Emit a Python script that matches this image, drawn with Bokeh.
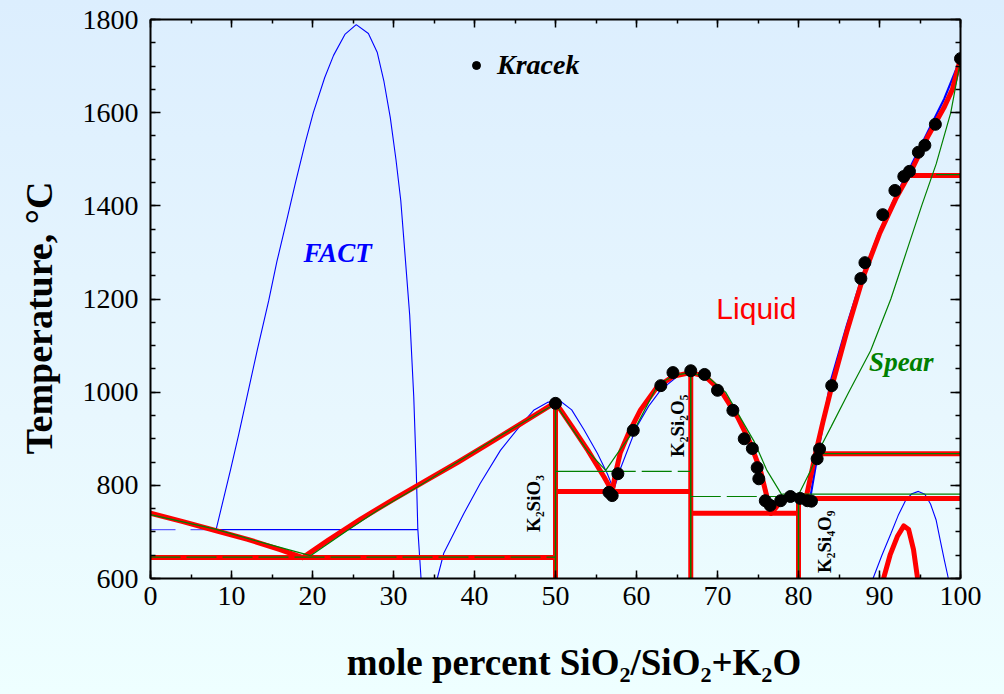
import numpy as np
from bokeh.plotting import figure
from bokeh.models import (LinearAxis, FixedTicker, Legend, LegendItem,
                          InlineStyleSheet, Range1d)
from bokeh.core.properties import value
from bokeh.embed import file_html
from bokeh.resources import INLINE

# ---------------- data: K2O-SiO2 phase diagram ----------------
# Assessed liquidus (red, thick)
red_liq_a_x = [0, 4, 8, 12, 16, 18.8]
red_liq_a_t = [740, 722, 703, 684, 662, 645]
red_liq_b_x = [18.8, 22, 26, 30, 34, 38, 42, 46, 50]
red_liq_b_t = [645, 683, 728, 770, 810, 850, 892, 935, 978]
red_liq_c_x = [50, 52, 54, 56, 57]
red_liq_c_t = [978, 927, 875, 818, 787]
red_liq_d_x = [57, 57.4, 58, 59, 60.5, 62.5, 64.5, 66.7, 68.5, 70.5, 72.5, 74, 75.3, 76.6]
red_liq_d_t = [787, 825, 870, 911, 962, 1010, 1034, 1042, 1034, 1001, 946, 893, 832, 740]
red_liq_e_x = [76.6, 77.5, 78.5, 79.5, 81]
red_liq_e_t = [740, 758, 770, 776, 778]
red_liq_f_x = [81, 82.1, 83.0, 84.0, 86.0, 88.0, 90.0, 92.0, 94.0, 96.0, 98.0, 99.0, 100]
red_liq_f_t = [778, 868, 935, 1005, 1132, 1248, 1340, 1415, 1478, 1550, 1612, 1650, 1716]
red_dome_x = [90.5, 91.3, 92.2, 93.0, 93.6, 94.2, 94.7]
red_dome_t = [600, 650, 690, 713, 705, 662, 600]
# invariant lines (start x, end x, T)
red_inv_x0 = [0, 50, 66.7, 80, 82.5, 93]
red_inv_x1 = [50, 66.7, 80, 100, 100, 100]
red_inv_t = [645, 787, 740, 772, 868, 1465]
# compounds K2SiO3, K2Si2O5, K2Si4O9 (x, melting T)
cmp_x = [50, 66.7, 80]
cmp_t = [978, 1042, 775]
cmp_names = ["K\u2082SiO\u2083", "K\u2082Si\u2082O\u2085", "K\u2082Si\u2084O\u2089"]

# FACT (blue, thin)
fact_gap_x = [8.1, 9.9, 10.9, 12.1, 13.2, 14.6, 15.6, 16.9, 17.9, 19.1, 20.1, 21.5,
              22.6, 24.0, 25.4, 26.9, 28.0, 28.8, 29.6, 30.3, 30.9, 31.4, 32.0,
              32.5, 32.8, 33.0, 33.4]
fact_gap_t = [705, 835, 910, 1005, 1092, 1197, 1280, 1375, 1450, 1535, 1600, 1675,
              1723, 1768, 1789, 1770, 1729, 1669, 1590, 1500, 1411, 1300, 1165,
              990, 838, 707, 600]
fact_mono_x0, fact_mono_x1, fact_mono_t = 8.1, 33.0, 705
fact_liq_a_x = [0, 8.1]
fact_liq_a_t = [740, 705]
fact_liq_b_x = [35.4, 36.2, 38.7, 40.7, 43.2, 45.5, 47.3, 49, 50.5, 52, 53.5, 55.2, 56.4, 57.2]
fact_liq_b_t = [600, 654, 740, 804, 875, 925, 961, 978, 982, 962, 920, 868, 825, 790]
fact_liq_c_x = [57.2, 58.0, 59.0, 60.0, 61.5, 63, 65, 66.7, 68.5, 70.5, 72.5, 74, 75.5, 76.8]
fact_liq_c_t = [790, 835, 880, 925, 970, 1005, 1033, 1042, 1034, 1001, 946, 893, 825, 745]
fact_liq_d_x = [76.8, 78, 79.5, 81.5, 82.5, 84, 86, 88, 90, 92, 94, 96, 98, 100]
fact_liq_d_t = [745, 765, 775, 778, 880, 1025, 1145, 1255, 1345, 1420, 1490, 1560, 1630, 1716]
fact_dome_x = [89.2, 90.3, 91.4, 92.3, 93.2, 94.0, 94.8, 95.6, 96.3, 97.0, 97.5, 98.0, 98.5]
fact_dome_t = [600, 650, 696, 735, 767, 782, 787, 781, 760, 725, 682, 640, 600]

# Spear (green, thin)
spear_a_x = [0, 8, 13.6, 19.75]
spear_a_t = [737, 706, 678, 649]
spear_b_x = [19.75, 24.3, 28, 33, 38, 43, 50]
spear_b_t = [649, 703, 746, 797, 851, 905, 975]
spear_c_x = [50, 52, 54, 56.2]
spear_c_t = [975, 923, 873, 832]
spear_d_x = [56.2, 57.5, 59.7, 62.6, 64.6, 66.7, 69, 71, 73, 74.5, 76.1, 78.0]
spear_d_t = [832, 865, 918, 1015, 1036, 1042, 1030, 1000, 940, 895, 832, 778]
spear_e_x = [78.0, 80, 81.5, 82.3, 84, 86.2, 88.9, 91.4, 93.3, 95.2, 97.0, 98.8, 100]
spear_e_t = [778, 780, 832, 868, 925, 1000, 1089, 1200, 1300, 1400, 1490, 1600, 1712]
spear_inv_x0 = [50, 78, 82.3, 97]
spear_inv_x1 = [56.2, 100, 100, 100]
spear_inv_t = [830, 781, 868, 1467]
spear_dash_x0 = [0, 56.2, 66.7]
spear_dash_x1 = [50, 66.7, 80]
spear_dash_t = [646, 830, 776]

# Kracek measurements
kracek_x = [50, 56.6, 57.0, 57.7, 59.6, 63.0, 64.5, 66.7, 68.4, 70.0, 71.9, 73.3, 74.3,
            74.9, 75.1, 75.9, 76.5, 77.8, 79.0, 80.2, 81.1, 81.6, 82.3, 82.6, 84.1,
            87.7, 88.2, 90.4, 91.9, 93.0, 93.7, 94.8, 95.6, 96.9, 100]
kracek_t = [976, 785, 778, 825, 918, 1014, 1042, 1046, 1038, 1004, 961, 900, 879,
            838, 814, 767, 757, 767, 776, 772, 767, 766, 857, 878, 1014,
            1244, 1278, 1381, 1433, 1463, 1474, 1515, 1530, 1575, 1716]

RED, BLUE, GREEN = "#FF0000", "#0000FF", "#008000"
SERIF = "Liberation Serif"
NB = "\u00a0"

p = figure(width=1004, height=694, output_backend="svg", toolbar_location=None,
           x_range=Range1d(0, 100), y_range=Range1d(600, 1800),
           min_border_left=150, min_border_right=44, min_border_top=19,
           min_border_bottom=116)
p.background_fill_color = None
p.border_fill_color = None
p.outline_line_color = None
p.stylesheets = [InlineStyleSheet(
    css=":host { background: linear-gradient(to bottom, #DCEEFE 0%, #E8F7FE 60%, #EEFFFF 100%); }")]
p.xgrid.visible = False
p.ygrid.visible = False

# ---------- FACT ----------
bw = 1.1
p.line(fact_gap_x, fact_gap_t, color=BLUE, line_width=bw)
p.segment(x0=[fact_mono_x0], x1=[fact_mono_x1], y0=[fact_mono_t], y1=[fact_mono_t],
          color=BLUE, line_width=1.3)
p.segment(x0=[0], x1=[fact_mono_x0], y0=[fact_mono_t], y1=[fact_mono_t],
          color="#5F5FFF", line_width=1.3, line_dash="25 15")
p.line(fact_liq_a_x, fact_liq_a_t, color=BLUE, line_width=bw)
p.line(fact_liq_b_x, fact_liq_b_t, color=BLUE, line_width=bw)
p.line(fact_liq_c_x, fact_liq_c_t, color=BLUE, line_width=bw)
p.line(fact_liq_d_x, fact_liq_d_t, color=BLUE, line_width=2.2)
p.line(fact_dome_x, fact_dome_t, color=BLUE, line_width=bw)

# ---------- assessed (red) ----------
rw = 5
for xs, ts in [(red_liq_a_x, red_liq_a_t), (red_liq_b_x, red_liq_b_t),
               (red_liq_c_x, red_liq_c_t), (red_liq_d_x, red_liq_d_t),
               (red_liq_e_x, red_liq_e_t), (red_liq_f_x, red_liq_f_t),
               (red_dome_x, red_dome_t)]:
    p.line(xs, ts, color=RED, line_width=rw, line_join="round", line_cap="round")
p.segment(x0=red_inv_x0, x1=red_inv_x1, y0=red_inv_t, y1=red_inv_t,
          color=RED, line_width=rw)
p.segment(x0=cmp_x, x1=cmp_x, y0=[600] * 3, y1=cmp_t, color=RED, line_width=rw)

# ---------- Spear (green) ----------
gw = 1.2
for xs, ts in [(spear_a_x, spear_a_t), (spear_b_x, spear_b_t),
               (spear_c_x, spear_c_t), (spear_d_x, spear_d_t),
               (spear_e_x, spear_e_t)]:
    p.line(xs, ts, color=GREEN, line_width=gw)
p.segment(x0=spear_inv_x0, x1=spear_inv_x1, y0=spear_inv_t, y1=spear_inv_t,
          color=GREEN, line_width=gw)
p.segment(x0=spear_dash_x0, x1=spear_dash_x1, y0=spear_dash_t, y1=spear_dash_t,
          color=GREEN, line_width=gw, line_dash="30 6")
p.segment(x0=cmp_x, x1=cmp_x, y0=[600] * 3, y1=[975, 1040, 781],
          color=GREEN, line_width=1.5)

# ---------- Kracek ----------
kr = p.scatter(kracek_x, kracek_t, size=12, color="black")

legend = Legend(items=[LegendItem(label="Kracek", renderers=[kr])],
                location=(316, 497), padding=0, margin=0, spacing=0,
                glyph_width=20, glyph_height=20, label_standoff=11,
                border_line_color=None, background_fill_alpha=0,
                label_text_font=SERIF, label_text_font_style="bold italic",
                label_text_font_size="28px", label_text_color="black")
p.add_layout(legend)

# ---------- labels ----------
p.text(x=[23.1], y=[1298], text=["FACT"], text_color=BLUE,
       text_font=value(SERIF), text_font_style="bold italic", text_font_size="27px",
       text_align="center", text_baseline="middle")
p.text(x=[74.8], y=[1180], text=["Liquid"], text_color=RED,
       text_font=value("Liberation Sans"), text_font_size="30px",
       text_align="center", text_baseline="middle")
p.text(x=[92.7], y=[1064], text=["Spear"], text_color=GREEN,
       text_font=value(SERIF), text_font_style="bold italic", text_font_size="27px",
       text_align="center", text_baseline="middle")
p.text(x=[47.3, 65.1, 83.2], y=[761, 928, 679], text=cmp_names, angle=np.pi / 2,
       text_color="black", text_font=value(SERIF), text_font_style="bold",
       text_font_size="19px", text_align="center", text_baseline="middle")

# ---------- axes ----------
x_major = list(range(0, 101, 10))
y_major = list(range(600, 1801, 200))
xt = FixedTicker(ticks=x_major, minor_ticks=list(range(0, 101, 5)))
yt = FixedTicker(ticks=y_major, minor_ticks=list(range(600, 1801, 50)))


def style_axis(ax, ticker, major=9, minor=5):
    ax.ticker = ticker
    ax.axis_line_width = 2
    ax.axis_line_color = "black"
    ax.major_tick_in = major
    ax.major_tick_out = 0
    ax.minor_tick_in = minor
    ax.minor_tick_out = 0
    ax.major_tick_line_width = 1.5
    ax.minor_tick_line_width = 1.5
    ax.major_label_text_font = SERIF
    ax.major_label_text_font_size = "28px"
    ax.major_label_text_color = "black"


style_axis(p.xaxis[0], xt, major=8, minor=4)
style_axis(p.yaxis[0], yt, major=10, minor=5)
p.xaxis[0].major_label_standoff = 8
p.yaxis[0].major_label_standoff = 12
p.xaxis[0].axis_label = NB * 4 + "mole percent SiO\u2082/SiO\u2082+K\u2082O"
p.yaxis[0].axis_label = "Temperature, \u00b0C" + NB * 4
for ax in (p.xaxis[0], p.yaxis[0]):
    ax.axis_label_text_font = SERIF
    ax.axis_label_text_font_style = "bold"
    ax.axis_label_text_color = "black"
p.xaxis[0].axis_label_text_font_size = "37px"
p.yaxis[0].axis_label_text_font_size = "38px"
p.xaxis[0].axis_label_standoff = 34
p.yaxis[0].axis_label_standoff = 20

# mirrored tick-only axes on top and right
top = LinearAxis()
style_axis(top, xt, major=8, minor=4)
top.major_label_overrides = {t: "" for t in x_major}
top.major_label_standoff = 0
p.add_layout(top, "above")
right = LinearAxis()
style_axis(right, yt, major=10, minor=5)
right.major_label_overrides = {t: "" for t in y_major}
right.major_label_standoff = 0
p.add_layout(right, "right")

open("out.html", "w").write(file_html(p, INLINE))
